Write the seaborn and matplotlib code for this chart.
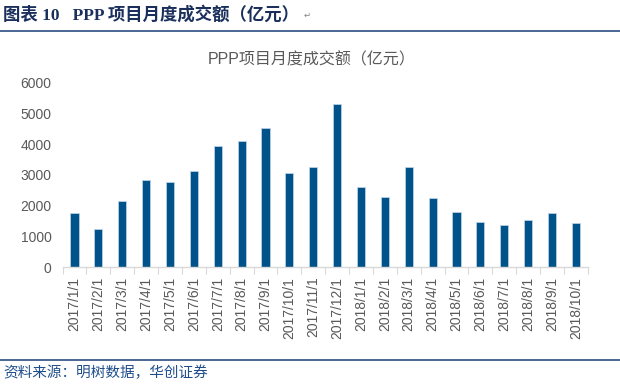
import matplotlib
matplotlib.use("Agg")
import matplotlib.pyplot as plt
import numpy as np
import pandas as pd
import seaborn as sns
from matplotlib.lines import Line2D
from matplotlib.ticker import FixedLocator

# data
months = ["2017/1/1", "2017/2/1", "2017/3/1", "2017/4/1", "2017/5/1", "2017/6/1",
          "2017/7/1", "2017/8/1", "2017/9/1", "2017/10/1", "2017/11/1", "2017/12/1",
          "2018/1/1", "2018/2/1", "2018/3/1", "2018/4/1", "2018/5/1", "2018/6/1",
          "2018/7/1", "2018/8/1", "2018/9/1", "2018/10/1"]
amount = [1750, 1240, 2160, 2830, 2760, 3140, 3935, 4100, 4510, 3045, 3240, 5300,
          2600, 2285, 3270, 2260, 1805, 1460, 1360, 1545, 1770, 1425]
y_ticks = [0, 1000, 2000, 3000, 4000, 5000, 6000]

chart_title = "PPP项目月度成交额（亿元）"
header = "图表 10   PPP 项目月度成交额（亿元）"
source = "资料来源：明树数据，华创证券"

sns.set_theme(style="white")
plt.rcParams["font.family"] = ["Liberation Sans", "Noto Sans CJK SC", "DejaVu Sans"]

df = pd.DataFrame({"month": months, "amount": amount})

fig = plt.figure(figsize=(6.2, 3.86), dpi=100)
ax = fig.add_axes([0.101, 0.308, 0.847, 0.478])

sns.barplot(data=df, x="month", y="amount", color="#00538a", width=0.34,
            saturation=1, edgecolor="#c5d6e6", linewidth=0.5, ax=ax)

ax.set_ylim(0, 6000)
ax.set_xlim(-0.5, len(months) - 0.5)
ax.set_yticks(y_ticks)
ax.set_xlabel("")
ax.set_ylabel("")

# tick marks between categories, like the original
ax.xaxis.set_minor_locator(FixedLocator(np.arange(-0.5, len(months), 1.0)))
ax.tick_params(axis="x", which="major", length=0, pad=7, labelrotation=90,
               labelsize=10, labelcolor="#595959")
ax.tick_params(axis="x", which="minor", length=5, width=0.8, color="#d9d9d9",
               bottom=True)
ax.tick_params(axis="y", length=0, pad=8, labelsize=10, labelcolor="#595959")

for side in ["top", "right", "left"]:
    ax.spines[side].set_visible(False)
ax.spines["bottom"].set_color("#d9d9d9")
ax.spines["bottom"].set_linewidth(1)

fig.text(0.502, 0.845, chart_title, ha="center", va="center", fontsize=11.5,
         color="#595959", family=["Liberation Sans", "Noto Sans CJK SC"])

# report header and source lines
head = fig.text(0.005, 0.963, header, ha="left", va="center", fontsize=12.5,
                fontweight="bold", color="#1a2f5c",
                family=["Liberation Serif", "Noto Sans CJK SC"])
fig.canvas.draw()
bb = head.get_window_extent().transformed(fig.transFigure.inverted())
fig.text(bb.x1 + 0.008, 0.960, "↵", ha="left", va="center", fontsize=6,
         color="#808080", family=["DejaVu Sans"])
fig.add_artist(Line2D([0, 1], [0.920, 0.920], transform=fig.transFigure,
                      color="#4a6694", linewidth=1.4))
fig.add_artist(Line2D([0, 1], [0.067, 0.067], transform=fig.transFigure,
                      color="#4a6694", linewidth=1.4))
fig.text(0.005, 0.033, source, ha="left", va="center", fontsize=10.5,
         style="italic", color="#1f4e8c", family=["Noto Sans CJK SC"])

fig.savefig("out.png", dpi=100)
